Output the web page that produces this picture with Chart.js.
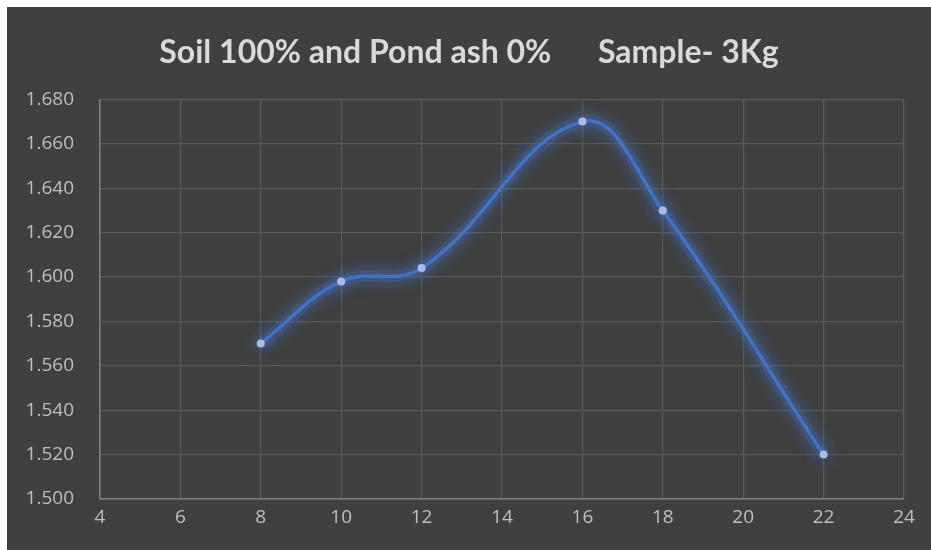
<!DOCTYPE html>
<html>
<head>
<meta charset="utf-8">
<script src="https://cdn.jsdelivr.net/npm/chart.js@4/dist/chart.umd.min.js"></script>
<style>
  html, body { margin:0; padding:0; background:#fff; }
  #wrap { position:absolute; left:7px; top:7px; width:924px; height:543px; background:#404040; }
</style>
</head>
<body>
<div id="wrap"><canvas id="c" width="924" height="543"></canvas></div>
<script>
// data
const titleText = 'Soil 100% and Pond ash 0%      Sample- 3Kg';
const xValues = [8, 10, 12, 16, 18, 22];
const yValues = [1.570, 1.598, 1.604, 1.670, 1.630, 1.520];
const xTicks = { min: 4, max: 24, step: 2 };
const yTicks = { min: 1.5, max: 1.68, step: 0.02 };

const points = xValues.map((x, i) => ({ x: x, y: yValues[i] }));

// soft blue glow like the Excel effect
const glow = {
  id: 'glow',
  beforeDatasetsDraw(chart){
    const ctx = chart.ctx;
    ctx.save();
    ctx.shadowColor = 'rgba(68,114,196,1)';
    ctx.shadowBlur = 16;
  },
  afterDatasetsDraw(chart){
    chart.ctx.restore();
  }
};

new Chart(document.getElementById('c').getContext('2d'), {
  type: 'scatter',
  data: {
    datasets: [{
      data: points,
      order: 0,
      showLine: true,
      borderColor: '#4472C4',
      borderWidth: 3.5,
      tension: 0.4,
      pointRadius: 4,
      pointBackgroundColor: '#a9bce6',
      pointBorderColor: '#a9bce6',
      pointBorderWidth: 0
    }, {
      // wide faint halo under the line
      data: points,
      order: 1,
      showLine: true,
      borderColor: 'rgba(68,114,196,0.22)',
      borderWidth: 12,
      tension: 0.4,
      pointRadius: 0
    }]
  },
  options: {
    responsive: false,
    animation: false,
    layout: { padding: 0 },
    plugins: {
      legend: { display: false },
      tooltip: { enabled: false },
      title: {
        display: true,
        text: titleText,
        color: '#d9d9d9',
        font: { family: 'Lato', size: 32, weight: 'bold' },
        padding: { top: 26, bottom: 28 }
      }
    },
    scales: {
      x: {
        type: 'linear',
        min: xTicks.min, max: xTicks.max,
        ticks: { stepSize: xTicks.step, color: '#bfbfbf', font: { family: 'Open Sans', size: 19 }, padding: 7 },
        grid: { color: '#595959', lineWidth: 1.2, drawTicks: false },
        border: { color: '#808080', width: 1.5 },
        afterFit(s){ s.height = 51; }
      },
      y: {
        min: yTicks.min, max: yTicks.max,
        ticks: { stepSize: yTicks.step, color: '#bfbfbf', font: { family: 'Open Sans', size: 19 }, padding: 26,
                 callback: v => Number(v).toFixed(3) },
        grid: { color: '#595959', lineWidth: 1.2, drawTicks: false },
        border: { color: '#808080', width: 1.5 },
        afterFit(s){ s.width = 93; }
      },
      // empty right axis, only reserves the right margin
      yRight: {
        position: 'right',
        min: yTicks.min, max: yTicks.max,
        ticks: { display: false },
        grid: { drawOnChartArea: false, drawTicks: false },
        border: { display: false },
        afterFit(s){ s.width = 27; }
      }
    }
  },
  plugins: [glow]
});
</script>
</body>
</html>
